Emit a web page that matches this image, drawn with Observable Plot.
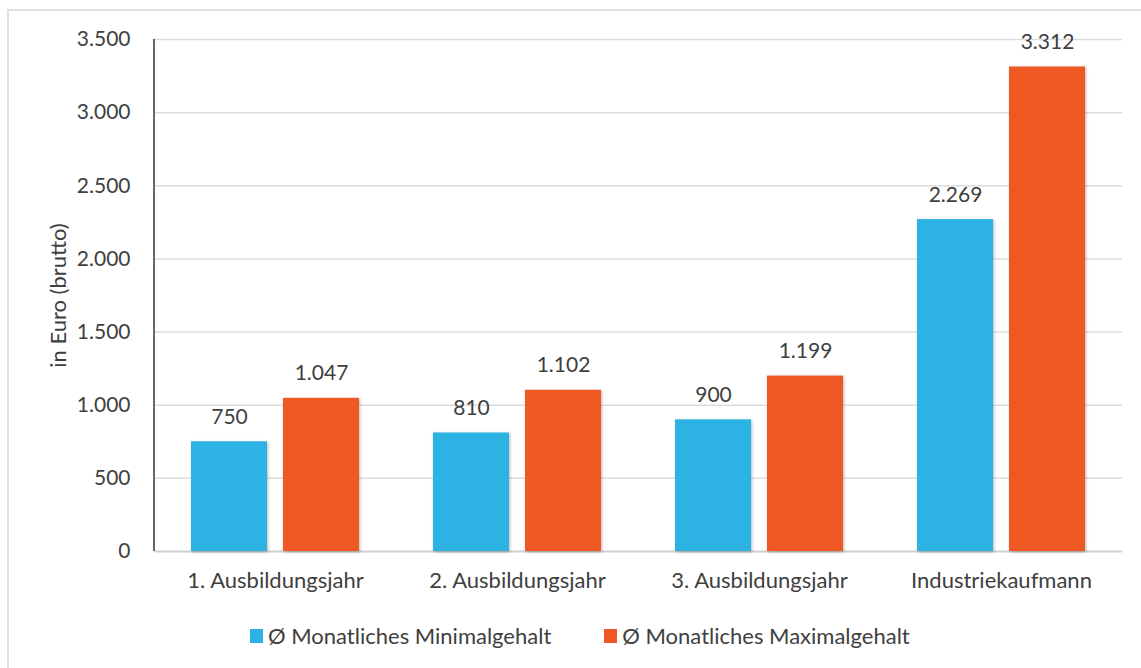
<!DOCTYPE html>
<html>
<head>
<meta charset="utf-8">
<script src="https://cdn.jsdelivr.net/npm/d3@7"></script>
<script src="https://cdn.jsdelivr.net/npm/@observablehq/plot@0.6"></script>
<style>
  html, body { margin: 0; padding: 0; background: #fff; }
  body { width: 1141px; height: 668px; position: relative; overflow: hidden; font-family: Lato, "Noto Sans", sans-serif; }
  #frame { position: absolute; left: 7px; top: 9px; width: 1200px; height: 700px; border-left: 2px solid #e0e0e0; border-top: 2px solid #e0e0e0; box-sizing: border-box; }
  #chart { position: absolute; left: 0; top: 0; }
  #chart g[aria-label="bar"] rect { filter: drop-shadow(1px 1px 1.5px rgba(0,0,0,0.28)); }
  #legend { position: absolute; top: 622px; left: 250px; display: flex; align-items: center; font-size: 22px; color: #404040; white-space: nowrap; }
  #legend .item { display: flex; align-items: center; }
  #legend .item + .item { margin-left: 53px; }
  #legend .sw { width: 13px; height: 14px; margin-right: 5px; }
</style>
</head>
<body>
<div id="frame"></div>
<div id="chart"></div>
<div id="legend"></div>
<script>
const categories = ["1. Ausbildungsjahr", "2. Ausbildungsjahr", "3. Ausbildungsjahr", "Industriekaufmann"];
const seriesNames = ["Ø Monatliches Minimalgehalt", "Ø Monatliches Maximalgehalt"];
const minValues = [750, 810, 900, 2269];
const maxValues = [1047, 1102, 1199, 3312];
const yTicks = [0, 500, 1000, 1500, 2000, 2500, 3000, 3500];
const colors = ["#2DB3E3", "#EE5823"];

const de = d3.formatLocale({decimal: ",", thousands: ".", grouping: [3], currency: ["", " €"]});
const fmt = de.format(",");

const data = [];
categories.forEach((c, i) => {
  data.push({cat: c, series: seriesNames[0], value: minValues[i]});
  data.push({cat: c, series: seriesNames[1], value: maxValues[i]});
});

const textColor = "#404040";
const font = "Lato, 'Noto Sans', sans-serif";

// vertical y-axis line, drawn only in the leftmost facet
const yAxisLine = (index, scales, values, dims) => {
  const line = document.createElementNS("http://www.w3.org/2000/svg", "line");
  line.setAttribute("x1", dims.marginLeft);
  line.setAttribute("x2", dims.marginLeft);
  line.setAttribute("y1", scales.y(d3.max(yTicks)));
  line.setAttribute("y2", scales.y(0));
  line.setAttribute("stroke", "#666");
  line.setAttribute("stroke-width", 2);
  return line;
};

const chart = Plot.plot({
  width: 1141,
  height: 610,
  marginLeft: 154,
  marginRight: 19,
  marginTop: 39,
  marginBottom: 59,
  style: {fontFamily: font, fontSize: "21px", color: textColor, background: "transparent"},
  fx: {domain: categories, padding: 0, label: null},
  x: {domain: seriesNames, paddingInner: 0.174, paddingOuter: 0.402, axis: null},
  y: {domain: [0, 3500], label: null},
  color: {domain: seriesNames, range: colors},
  marks: [
    Plot.ruleY(yTicks.filter(d => d > 0), {stroke: "#dcdcdc", strokeWidth: 1.5}),
    Plot.ruleY([0], {stroke: "#d0d0d0", strokeWidth: 2}),
    Plot.barY(data, {fx: "cat", x: "series", y: "value", fill: "series"}),
    Plot.text(data, {fx: "cat", x: "series", y: "value", text: d => fmt(d.value), lineAnchor: "bottom", dy: -18, fill: textColor, fontSize: 21}),
    Plot.axisY(yTicks, {tickSize: 0, tickPadding: 24, tickFormat: fmt, fill: textColor, fontSize: 21,
      label: "in Euro (brutto)", labelAnchor: "center", labelOffset: 104, labelArrow: "none"}),
    Plot.axisFx({anchor: "bottom", tickSize: 0, tickPadding: 21, label: null, fill: textColor, fontSize: 22}),
    Plot.ruleY([0], {facetAnchor: "left", render: yAxisLine})
  ]
});
document.getElementById("chart").appendChild(chart);
// y-axis title slightly larger, like the reference
chart.querySelectorAll('g[aria-label="y-axis label"] text').forEach(t => t.setAttribute("font-size", 22));

const legend = document.getElementById("legend");
seriesNames.forEach((s, i) => {
  const item = document.createElement("div");
  item.className = "item";
  const sw = document.createElement("div");
  sw.className = "sw";
  sw.style.background = colors[i];
  const t = document.createElement("span");
  t.textContent = s;
  item.appendChild(sw);
  item.appendChild(t);
  legend.appendChild(item);
});
</script>
</body>
</html>
